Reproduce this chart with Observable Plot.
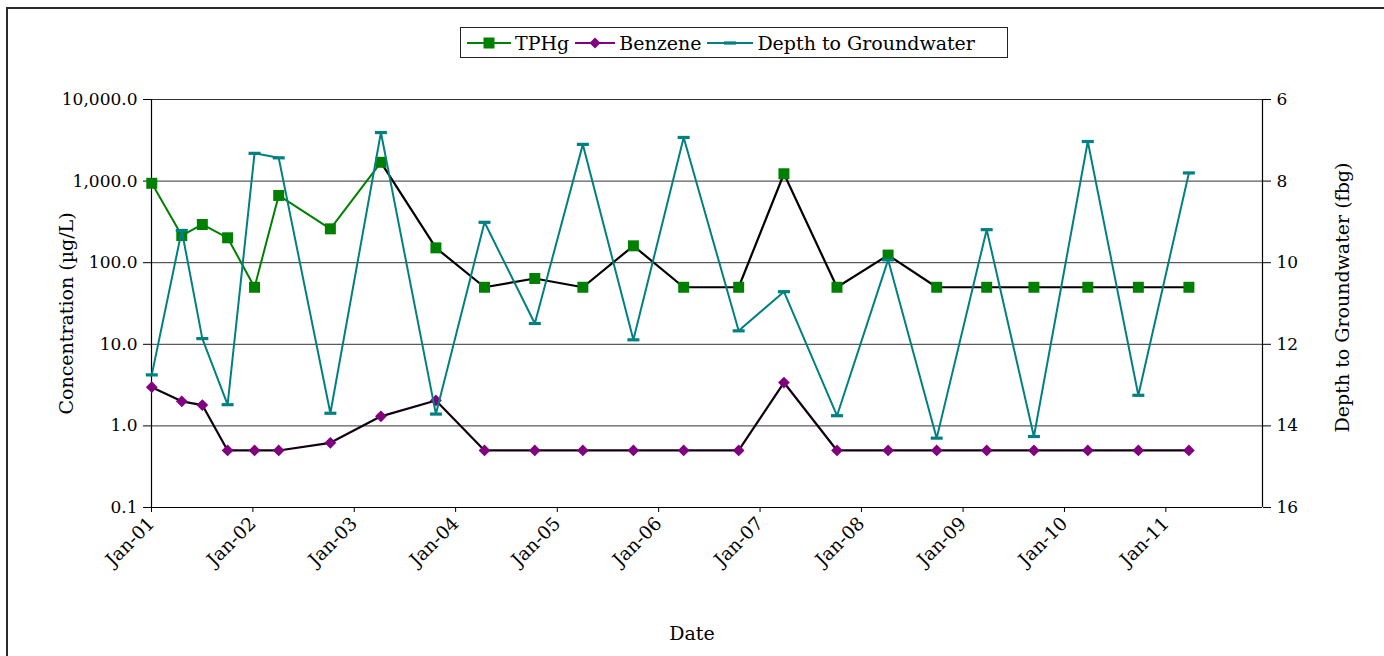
<!DOCTYPE html>
<html>
<head>
<meta charset="utf-8">
<script src="https://cdn.jsdelivr.net/npm/d3@7"></script>
<script src="https://cdn.jsdelivr.net/npm/@observablehq/plot@0.6"></script>
<style>
  html, body { margin: 0; padding: 0; background: #fff; overflow: hidden; }
  #wrap { position: relative; width: 1384px; height: 656px; overflow: hidden; font-family: "DejaVu Serif", serif; }
  #frame { position: absolute; left: 6px; top: 7px; width: 1420px; height: 700px; border: 2px solid #2a2a2a; }
  #wrap svg.layer { position: absolute; left: 0; top: 0; }
  #legend { position: absolute; left: 460px; top: 27px; width: 548px; height: 31px; border: 1px solid #222; background: #fff;
            display: flex; align-items: center; font-size: 19px; color: #000; box-sizing: border-box; padding-left: 6px; }
  #legend .item { display: flex; align-items: center; margin-right: 6px; }
  #legend svg { margin-right: 4px; }
</style>
</head>
<body>
<div id="wrap">
  <div id="frame"></div>
  <div id="legend"></div>
</div>
<script>
// ---- data ----
const sampleDates = ["2001-01-02","2001-04-20","2001-07-03","2001-10-02","2002-01-07","2002-04-04","2002-10-07","2003-04-07",
  "2003-10-22","2004-04-14","2004-10-12","2005-04-03","2005-10-02","2006-04-01","2006-10-16","2007-03-28",
  "2007-10-05","2008-04-06","2008-09-28","2009-03-27","2009-09-13","2010-03-26","2010-09-24","2011-03-25"];
const tphg = [940, 215, 294, 202, 50, 667, 260, 1700, 152, 50, 64, 50, 161, 50, 50, 1230, 50, 124, 50, 50, 50, 50, 50, 50];
const benzene = [2.98, 2.0, 1.8, 0.5, 0.5, 0.5, 0.62, 1.31, 2.05, 0.5, 0.5, 0.5, 0.5, 0.5, 0.5, 3.4, 0.5, 0.5, 0.5, 0.5, 0.5, 0.5, 0.5, 0.5];
const depth = [12.75, 9.21, 11.86, 13.48, 7.32, 7.43, 13.69, 6.81, 13.71, 9.01, 11.49, 7.10, 11.89, 6.93, 11.67, 10.71,
  13.75, 9.93, 14.30, 9.19, 14.26, 7.03, 13.25, 7.80];
const concTicks = [0.1, 1, 10, 100, 1000, 10000];
const depthTicks = [6, 8, 10, 12, 14, 16];
const yearTicks = ["2001-01-01","2002-01-01","2003-01-01","2004-01-01","2005-01-01","2006-01-01",
  "2007-01-01","2008-01-01","2009-01-01","2010-01-01","2011-01-01"];
const seriesNames = ["TPHg", "Benzene", "Depth to Groundwater"];

// ---- build ----
const rows = sampleDates.map((d, i) => ({date: new Date(d), tphg: tphg[i], benzene: benzene[i], depth: depth[i]}));
const xTicks = yearTicks.map(d => new Date(d));
const xDomain = [new Date("2001-01-01"), new Date("2011-12-15")];
const GREEN = "#008000", PURPLE = "#800080", TEAL = "#008080";
const dash = {draw(ctx) { ctx.moveTo(-6, -1.6); ctx.lineTo(6, -1.6); ctx.lineTo(6, 1.6); ctx.lineTo(-6, 1.6); ctx.closePath(); }};

const common = {
  width: 1384, height: 656,
  marginLeft: 151, marginRight: 122, marginTop: 99, marginBottom: 149,
  style: {fontFamily: "DejaVu Serif, serif", fontSize: "17px", color: "#000", background: "transparent", overflow: "visible"}
};

const conc = Plot.plot({
  ...common,
  x: {type: "utc", domain: xDomain},
  y: {type: "log", domain: [0.1, 10000]},
  marks: [
    Plot.ruleY(concTicks, {stroke: "#333", strokeWidth: 1}),
    Plot.ruleX([xDomain[0]], {stroke: "#000", strokeWidth: 1.2}),
    Plot.ruleY([0.1], {stroke: "#000", strokeWidth: 1.2}),
    Plot.axisY({ticks: concTicks, tickFormat: d3.format(",.1f"), tickSize: 8, tickPadding: 6, label: null}),
    Plot.axisX({ticks: xTicks, tickFormat: d3.utcFormat("%b-%y"), tickRotate: -45, tickSize: 5, tickPadding: 8, fontSize: 18.5, label: null}),
    Plot.line(rows.slice(0, 8), {x: "date", y: "tphg", stroke: GREEN, strokeWidth: 2}),
    Plot.line(rows.slice(7), {x: "date", y: "tphg", stroke: "#000", strokeWidth: 2.2}),
    Plot.line(rows, {x: "date", y: "benzene", stroke: "#100010", strokeWidth: 2.2}),
    Plot.dot(rows, {x: "date", y: "tphg", symbol: "square", r: 6.2, fill: GREEN, stroke: "none"}),
    Plot.dot(rows, {x: "date", y: "benzene", symbol: "diamond2", r: 5.3, fill: PURPLE, stroke: "none"}),
    Plot.text(["Concentration (µg/L)"], {text: d => d, frameAnchor: "left", textAnchor: "middle", lineAnchor: "middle", dx: -85, dy: 10, rotate: -90, fontSize: 19}),
    Plot.text(["Date"], {text: d => d, frameAnchor: "bottom", textAnchor: "middle", lineAnchor: "middle", dx: -15, dy: 126, fontSize: 19})
  ]
});

const dep = Plot.plot({
  ...common,
  x: {type: "utc", domain: xDomain, axis: null},
  y: {domain: [6, 16], reverse: true},
  marks: [
    Plot.ruleX([xDomain[1]], {stroke: "#000", strokeWidth: 1.2}),
    Plot.axisY({anchor: "right", ticks: depthTicks, tickFormat: d3.format("d"), tickSize: 8, tickPadding: 6, label: null}),
    Plot.line(rows, {x: "date", y: "depth", stroke: TEAL, strokeWidth: 2}),
    Plot.dot(rows, {x: "date", y: "depth", symbol: dash, r: 5, fill: TEAL, stroke: "none"}),
    Plot.text(["Depth to Groundwater (fbg)"], {text: d => d, frameAnchor: "right", textAnchor: "middle", lineAnchor: "middle", dx: 80, dy: -6, rotate: -90, fontSize: 19})
  ]
});

conc.classList.add("layer");
dep.classList.add("layer");
const wrap = document.getElementById("wrap");
wrap.appendChild(conc);
wrap.appendChild(dep);

// ---- legend ----
const legend = document.getElementById("legend");
const sym = [
  `<line x1="0" y1="10" x2="44" y2="10" stroke="${GREEN}" stroke-width="2"/><rect x="16.5" y="4.5" width="11" height="11" fill="${GREEN}"/>`,
  `<line x1="0" y1="10" x2="40" y2="10" stroke="${PURPLE}" stroke-width="2"/><path d="M20 4.5 L25.5 10 L20 15.5 L14.5 10 Z" fill="${PURPLE}"/>`,
  `<line x1="0" y1="10" x2="46" y2="10" stroke="${TEAL}" stroke-width="2"/><rect x="17" y="8.4" width="12" height="3.2" fill="${TEAL}"/>`
];
const widths = [44, 40, 46];
seriesNames.forEach((name, i) => {
  const it = document.createElement("div");
  it.className = "item";
  it.innerHTML = `<svg width="${widths[i]}" height="20">${sym[i]}</svg><span>${name}</span>`;
  legend.appendChild(it);
});
</script>
</body>
</html>
